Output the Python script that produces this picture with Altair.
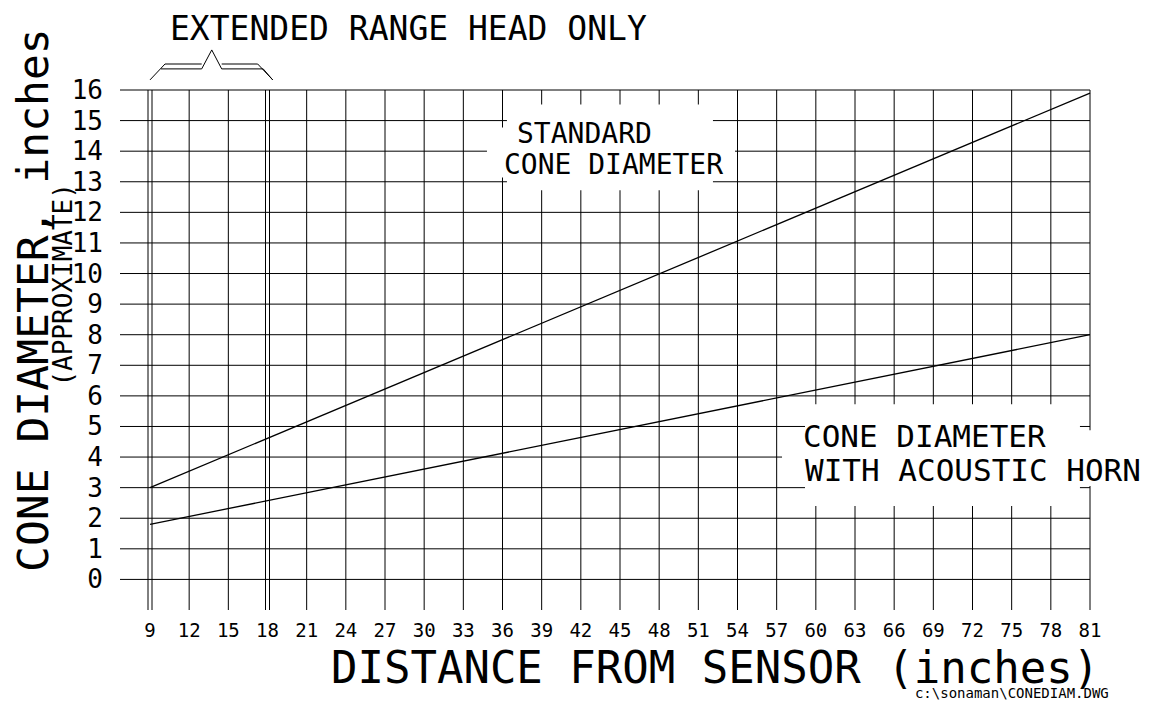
import altair as alt
import pandas as pd

# ---- data ----
x_ticks = list(range(9, 82, 3))          # distance tick labels (inches)
y_ticks = list(range(0, 17))             # cone diameter tick labels (inches)
distance = [9, 81]
standard_cone = [3.0, 15.9]
horn_cone = [1.8, 8.0]
extended_range = [9, 18]                 # extended range head limits

title_y = "CONE DIAMETER, inches"
title_y2 = "(APPROXIMATE)"
title_x = "DISTANCE FROM SENSOR (inches)"
note_top = "EXTENDED RANGE HEAD ONLY"
label_std = ["STANDARD", "CONE DIAMETER"]
label_horn = ["CONE DIAMETER", "WITH ACOUSTIC HORN"]
file_note = "c:\\sonaman\\CONEDIAM.DWG"

FONT = "DejaVu Sans Mono"
X_SCALE = alt.Scale(domain=[6.702, 81], nice=False, zero=False)
Y_SCALE = alt.Scale(domain=[-1, 16], nice=False, zero=False)

lines_df = pd.DataFrame({
    "distance": distance + distance,
    "diameter": standard_cone + horn_cone,
    "series": ["Standard"] * 2 + ["Horn"] * 2,
})
vgrid_df = pd.DataFrame({"x": [v for v in x_ticks if v not in extended_range]})
dbl_df = pd.DataFrame({"x": extended_range})
hgrid_df = pd.DataFrame({"y": y_ticks})
xlab_df = pd.DataFrame({"x": x_ticks})
ylab_df = pd.DataFrame({"y": y_ticks})

# brace over the extended range (data coordinates)
brace_df = pd.DataFrame({
    "x": [9.0, 10.15, 12.96,
          9.84, 12.96, 13.73, 14.49, 17.67, 18.40,
          14.49, 17.25, 18.40],
    "y": [16.33, 16.85, 16.85,
          16.69, 16.69, 17.31, 16.69, 16.69, 16.33,
          16.85, 16.85, 16.33],
    "seg": [0, 0, 0, 1, 1, 1, 1, 1, 1, 2, 2, 2],
    "ord": [0, 1, 2, 0, 1, 2, 3, 4, 5, 0, 1, 2],
})

X = lambda f: alt.X(f, scale=X_SCALE, axis=None)
Y = lambda f: alt.Y(f, scale=Y_SCALE, axis=None)
XD = lambda v: alt.XDatum(v, scale=X_SCALE, axis=None)
YD = lambda v: alt.YDatum(v, scale=Y_SCALE, axis=None)

vgrid = alt.Chart(vgrid_df).mark_rule(color="black", strokeWidth=1).encode(x=X("x:Q"))
dbl_a = alt.Chart(dbl_df).mark_rule(color="black", strokeWidth=1, xOffset=-2).encode(x=X("x:Q"))
dbl_b = alt.Chart(dbl_df).mark_rule(color="black", strokeWidth=1, xOffset=2).encode(x=X("x:Q"))
hgrid = alt.Chart(hgrid_df).mark_rule(color="black", strokeWidth=1).encode(y=Y("y:Q"))


def box(x1, x2, y1, y2):
    return alt.Chart(pd.DataFrame({"k": [0]})).mark_rect(color="white").encode(
        x=XD(x1), x2=alt.X2Datum(x2), y=YD(y1), y2=alt.Y2Datum(y2))


boxes = [
    box(36.34, 52.12, 15.53, 12.72),
    box(34.81, 53.81, 14.77, 13.14),
    box(59.17, 80.23, 5.73, 2.40),
    box(57.41, 86.74, 4.88, 3.05),
]

lines = alt.Chart(lines_df).mark_line(color="black", strokeWidth=1.3).encode(
    x=X("distance:Q"), y=Y("diameter:Q"), detail="series:N")

brace = alt.Chart(brace_df).mark_line(color="black", strokeWidth=1).encode(
    x=X("x:Q"), y=Y("y:Q"), detail="seg:N", order="ord:Q")

xlabels = alt.Chart(xlab_df).mark_text(
    font=FONT, fontSize=19, align="center", baseline="alphabetic", color="black"
).encode(x=X("x:Q"), y=alt.value(547), text=alt.Text("x:Q", format="d"))

ylabels = alt.Chart(ylab_df).mark_text(
    font=FONT, fontSize=26, align="right", baseline="middle", color="black", dy=1
).encode(x=alt.value(-17), y=Y("y:Q"), text=alt.Text("y:Q", format="d"))


def txt(s, x, y, size, angle=0, align="left"):
    return alt.Chart(pd.DataFrame({"t": [s]})).mark_text(
        font=FONT, fontSize=size, align=align, baseline="alphabetic",
        color="black", angle=angle).encode(x=XD(x), y=YD(y), text="t:N")


texts = [
    txt(note_top, 10.53, 17.65, 33),
    txt(label_std[0], 37.11, 14.28, 28),
    txt(label_std[1], 36.11, 13.27, 28),
    txt(label_horn[0], 59.02, 4.32, 31),
    txt(label_horn[1], 59.17, 3.21, 31),
    txt(title_y, 1.19, 9.13, 43, angle=270, align="center"),
    txt(title_y2, 3.03, 9.63, 26, angle=270, align="center"),
    txt(title_x, 52.28, -3.38, 44, align="center"),
    txt(file_note, 67.59, -3.877, 14),
]

chart = alt.layer(vgrid, dbl_a, dbl_b, hgrid, *boxes, lines, brace,
                  xlabels, ylabels, *texts).properties(
    width=970, height=520,
    padding={"left": 112, "top": 82, "right": 71, "bottom": 93},
    autosize=alt.AutoSizeParams(type="none"),
).configure_view(stroke=None)

chart.save("out.html", embed_options={"renderer": "svg", "actions": False})
